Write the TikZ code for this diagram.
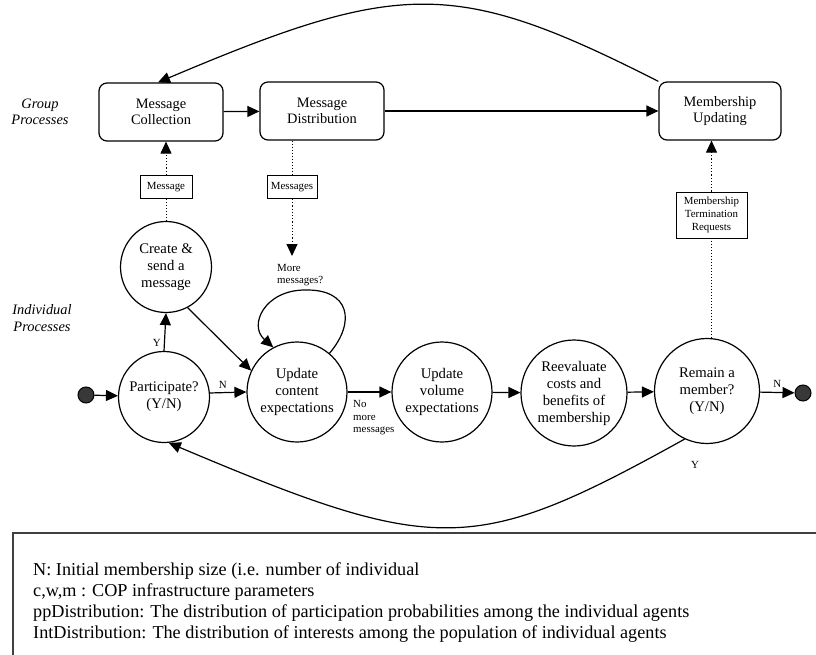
\documentclass[tikz,border=0pt]{standalone}
\usepackage{fontspec}
\setmainfont{Liberation Serif}
\usetikzlibrary{arrows.meta,calc}
\begin{document}
\begin{tikzpicture}[x=1pt,y=-1pt,
  state/.style={draw, circle, line width=1.2pt, inner sep=0pt, align=center, font=\fontsize{14.7}{17}\selectfont},
  proc/.style={draw, rounded corners=8pt, line width=1.2pt, minimum width=124pt, minimum height=58pt, align=center, font=\fontsize{14.4}{16.5}\selectfont, inner sep=0pt},
  flowbox/.style={draw, line width=0.9pt, inner sep=0pt, align=center, font=\fontsize{10.9}{13}\selectfont},
  lbl/.style={font=\fontsize{10.9}{12.5}\selectfont, inner sep=0pt},
  side/.style={font=\fontsize{14.4}{16.5}\selectfont\itshape, align=center, inner sep=0pt},
  arr/.style={-{Triangle[length=12pt,width=11pt]}, line width=1.2pt},
  dotarr/.style={dotted, line width=1pt},
  terminal/.style={circle, draw, fill=black!78, line width=1pt, minimum size=16pt, inner sep=0pt},
  legend/.style={anchor=base west, inner sep=0pt, font=\fontsize{18.2}{21}\selectfont},
]
\useasboundingbox (0,0) rectangle (816,655);

% group processes
\node[proc] (coll) at (161,112) {Message\\Collection};
\node[proc] (dist) at (322,111) {Message\\Distribution};
\node[proc, minimum width=122pt] (upd) at (720,111) {Membership\\Updating};

\node[side] (glabel) at (40,112) {Group\\Processes};
\node[side] (ilabel) at (42,318) {Individual\\Processes};

% individual processes
\node[terminal] (start) at (86,395) {};
\node[state, minimum size=91pt] (part) at (164,397) {Participate?\\(Y/N)};
\node[state, minimum size=91pt] (create) at (166,267) {Create \&\\send a\\message};
\node[state, minimum size=100pt] (content) at (297,392) {Update\\content\\expectations};
\node[state, minimum size=100pt] (volume) at (442,392) {Update\\volume\\expectations};
\node[state, minimum size=106pt] (reeval) at (574,393) {Reevaluate\\costs and\\benefits of\\membership};
\node[state, minimum size=105pt] (remain) at (707,391) {Remain a\\member?\\(Y/N)};
\node[terminal] (stop) at (803,393) {};

% data boxes
\node[flowbox, minimum width=52pt, minimum height=23pt] (msg) at (166,187) {Message};
\node[flowbox, minimum width=50pt, minimum height=23pt] (msgs) at (292,187) {Messages};
\node[flowbox, minimum width=71pt, minimum height=46pt] (mtr) at (711.5,215) {Membership\\Termination\\Requests};

% dotted flows
\draw[dotarr] (create.north) -- (msg.south);
\draw[arr, dotarr] (msg.north) -- (msg.north |- coll.south);
\coordinate (msgtip) at (292,256);
\draw[dotarr] (msgs.north |- dist.south) -- (msgs.north);
\draw[arr, dotarr] (msgs.south) -- (msgtip);
\draw[dotarr] (mtr.south |- remain.north) -- (mtr.south);
\draw[arr, dotarr] (mtr.north) -- (mtr.north |- upd.south);

% group arrows
\draw[arr] (coll) -- (dist);
\draw[arr] (dist) -- (upd);
\draw[arr] (upd.north west) .. controls (455,-22) and (400,-20) .. ([xshift=-3pt]coll.north);

% individual arrows
\draw[arr] (start) -- (part);
\draw[arr] (part.5) -- (content.west) node[lbl, pos=0.35, above=4pt] (nlab) {N};
\draw[arr] (part.north) -- (create.south) node[lbl, pos=0.2, left=3pt] (ylab) {Y};
\draw[arr] (create.-62) -- (content.155);
\draw[arr] (content.50) .. controls (356,322) and (350,289) .. (305,290)
                        .. controls (265,290) and (248,325) .. (content.118);
\node[lbl, align=left, anchor=west] (more) at (277,275) {More\\messages?};
\draw[arr] (content) -- (volume);
\node[lbl, align=left, anchor=west, font=\fontsize{10.9}{12.5}\selectfont] (nomore) at (353,418) {No\\more\\messages};
\draw[arr] (volume) -- (reeval);
\draw[arr] (reeval) -- (remain);
\draw[arr] (remain) -- (stop) node[lbl, midway, above=4pt] (nlab2) {N};
\draw[arr] (remain.-115) .. controls (474,556) and (437,556) .. (part.-84);
\node[lbl] (ylab2) at (695,465) {Y};

% legend box
\draw[line width=1.3pt, black!75] (13,655) -- (13,533) -- (816,533);
\node[legend] (t1) at (33,575) {N: Initial membership size (i.e. number of individual};
\node[legend] (t2) at (33,596) {c,w,m : COP infrastructure parameters};
\node[legend] (t3) at (33,617) {ppDistribution: The distribution of participation probabilities among the individual agents};
\node[legend] (t4) at (33,638) {IntDistribution: The distribution of interests among the population of individual agents};
\end{tikzpicture}
\end{document}
